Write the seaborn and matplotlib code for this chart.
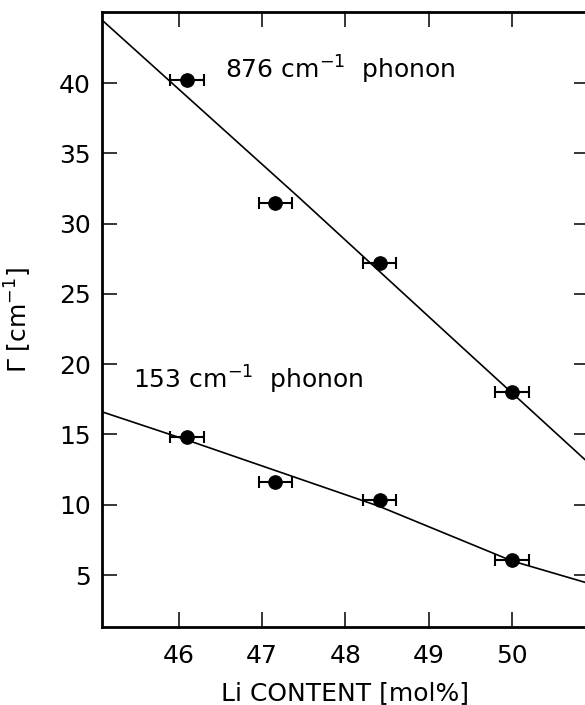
import pandas as pd
import seaborn as sns
import matplotlib.pyplot as plt

# Measured linewidths vs Li content
li_content = [46.1, 47.16, 48.41, 50.0]
gamma_876 = [40.2, 31.5, 27.2, 18.05]
gamma_153 = [14.8, 11.6, 10.35, 6.1]
li_err = [0.2, 0.2, 0.2, 0.2]

# Fit lines
fit_x_876 = [45.08, 47.45, 49.41, 50.95]
fit_y_876 = [44.48, 31.82, 21.15, 12.8]
fit_x_153 = [45.08, 46.1, 48.4, 50.0, 50.95]
fit_y_153 = [16.61, 14.6, 9.9, 6.0, 4.35]

x_ticks = [46, 47, 48, 49, 50]
y_ticks = [5, 10, 15, 20, 25, 30, 35, 40]

sns.set_style("ticks")
plt.rcParams['font.family'] = ['DejaVu Sans']
plt.rcParams['mathtext.fontset'] = 'dejavusans'
plt.rcParams['mathtext.default'] = 'regular'
plt.rcParams['text.color'] = 'black'
plt.rcParams['axes.labelcolor'] = 'black'
plt.rcParams['xtick.color'] = 'black'
plt.rcParams['ytick.color'] = 'black'

fig = plt.figure(figsize=(5.85, 7.05), dpi=100)
ax = fig.add_axes([0.1744, 0.1106, 0.832, 0.8723])

fit876 = pd.DataFrame({'x': fit_x_876, 'y': fit_y_876})
fit153 = pd.DataFrame({'x': fit_x_153, 'y': fit_y_153})
sns.lineplot(data=fit876, x='x', y='y', ax=ax, color='black', lw=1.2, sort=False)
sns.lineplot(data=fit153, x='x', y='y', ax=ax, color='black', lw=1.2, sort=False)

for g in (gamma_876, gamma_153):
    ax.errorbar(li_content, g, xerr=li_err, fmt='none', ecolor='black',
                elinewidth=1.5, capsize=4.5, capthick=1.5)
    pts = pd.DataFrame({'x': li_content, 'y': g})
    sns.scatterplot(data=pts, x='x', y='y', ax=ax, color='black', s=95,
                    edgecolor='black', zorder=5)

ax.text(46.55, 40.9, '876 cm$^{-1}$  phonon', fontsize=18, va='center')
ax.text(45.45, 18.9, '153 cm$^{-1}$  phonon', fontsize=18, va='center')

ax.set_xlim(45.08, 50.92)
ax.set_ylim(1.3, 45.05)
ax.set_xticks(x_ticks)
ax.set_yticks(y_ticks)
ax.tick_params(direction='in', length=11, width=1.1, labelsize=18,
               top=True, right=True, colors='black')
ax.tick_params(axis='x', pad=12)
ax.tick_params(axis='y', pad=8)
for s in ax.spines.values():
    s.set_linewidth(2)
    s.set_color('black')

ax.set_xlabel('Li CONTENT [mol%]', fontsize=18, labelpad=10)
ax.set_ylabel('Γ [cm$^{-1}$]', fontsize=18)
ax.yaxis.set_label_coords(-0.14, 0.5)

fig.savefig('out.png', dpi=100)
